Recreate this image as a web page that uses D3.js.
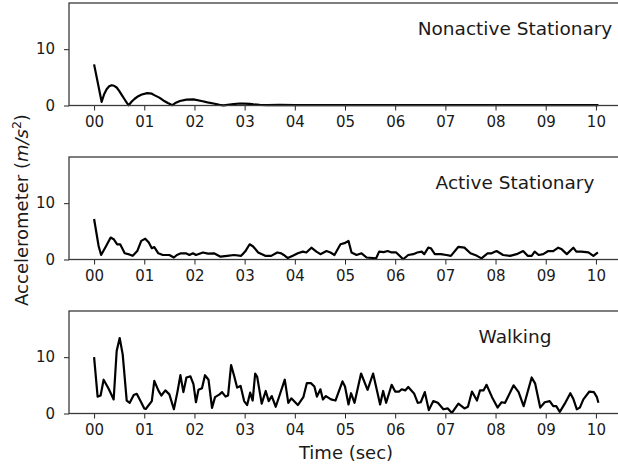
<!DOCTYPE html>
<html>
<head>
<meta charset="utf-8">
<script src="https://cdn.jsdelivr.net/npm/d3@7"></script>
<style>
  body { margin: 0; background: #fff; }
  svg text { font-family: "DejaVu Sans", sans-serif; fill: #1a1a1a; }
</style>
</head>
<body>
<div id="chart"></div>
<script>
// accelerometer magnitude (t in sec, value in m/s^2)
var nonactiveT = [0, 0.15, 0.2, 0.25, 0.3, 0.35, 0.4, 0.45, 0.5, 0.55, 0.6, 0.65, 0.69, 0.75, 0.81, 0.88, 0.95, 1.06, 1.15, 1.21, 1.3, 1.38, 1.47, 1.56, 1.63, 1.71, 1.84, 1.98, 2.14, 2.26, 2.38, 2.5, 2.58, 2.7, 2.78, 2.9, 2.98, 3.1, 3.18, 3.3, 3.45, 3.7, 4.0, 4.5, 5.0, 5.5, 6.0, 6.5, 7.0, 7.5, 8.0, 8.5, 9.0, 9.5, 10.05];
var nonactiveV = [7.3, 0.65, 2.0, 2.9, 3.4, 3.6, 3.5, 3.2, 2.6, 1.9, 1.2, 0.5, 0.05, 0.7, 1.2, 1.65, 1.95, 2.2, 2.1, 1.8, 1.4, 0.9, 0.45, 0.05, 0.5, 0.8, 1.05, 1.1, 0.8, 0.55, 0.35, 0.1, 0.02, 0.15, 0.25, 0.35, 0.35, 0.3, 0.2, 0.12, 0.08, 0.1, 0.06, 0.08, 0.05, 0.07, 0.05, 0.06, 0.05, 0.07, 0.05, 0.06, 0.05, 0.06, 0.05];

var activeT = [0, 0.09, 0.14, 0.24, 0.33, 0.39, 0.46, 0.52, 0.61, 0.7, 0.77, 0.86, 0.94, 1.02, 1.09, 1.15, 1.2, 1.28, 1.37, 1.5, 1.59, 1.65, 1.73, 1.83, 1.9, 1.97, 2.03, 2.17, 2.27, 2.39, 2.52, 2.65, 2.79, 2.93, 3.01, 3.1, 3.17, 3.27, 3.41, 3.53, 3.65, 3.73, 3.78, 3.86, 3.96, 4.06, 4.16, 4.23, 4.33, 4.43, 4.51, 4.63, 4.71, 4.79, 4.91, 4.99, 5.07, 5.13, 5.23, 5.33, 5.43, 5.62, 5.68, 5.77, 5.85, 5.93, 6.02, 6.16, 6.26, 6.36, 6.44, 6.53, 6.58, 6.66, 6.71, 6.79, 6.91, 7.02, 7.11, 7.26, 7.38, 7.5, 7.63, 7.72, 7.84, 7.92, 8.02, 8.15, 8.29, 8.42, 8.55, 8.64, 8.72, 8.78, 8.86, 8.95, 9.05, 9.15, 9.25, 9.32, 9.42, 9.55, 9.61, 9.71, 9.85, 9.95, 10.04];
var activeV = [7.2, 2.4, 0.8, 2.4, 3.9, 3.6, 2.7, 2.7, 1.1, 0.9, 0.65, 1.5, 3.3, 3.7, 3.0, 2.0, 2.2, 1.1, 0.8, 0.8, 0.35, 0.8, 1.1, 1.1, 0.8, 1.1, 0.8, 1.25, 1.05, 1.1, 0.5, 0.65, 0.8, 0.65, 1.4, 2.7, 2.3, 1.25, 0.65, 0.65, 1.25, 1.1, 0.8, 0.25, 0.65, 1.1, 1.4, 1.25, 2.1, 1.4, 0.95, 1.5, 1.25, 0.8, 2.7, 2.9, 3.3, 1.25, 0.8, 1.1, 0.35, 0.2, 1.4, 1.3, 1.5, 1.25, 1.25, 0.05, 0.8, 0.95, 1.25, 1.4, 0.95, 2.1, 2.0, 0.95, 0.95, 0.8, 0.65, 2.25, 2.1, 1.1, 0.65, 0.2, 1.1, 1.1, 1.5, 0.8, 0.65, 0.95, 1.5, 0.65, 0.65, 1.4, 0.8, 0.95, 1.5, 1.5, 2.1, 1.8, 0.95, 2.1, 1.4, 1.4, 1.25, 0.65, 1.25];

var walkingT = [0, 0.07, 0.13, 0.19, 0.29, 0.39, 0.45, 0.51, 0.57, 0.65, 0.71, 0.79, 0.85, 0.92, 1.0, 1.03, 1.15, 1.2, 1.28, 1.34, 1.42, 1.5, 1.59, 1.66, 1.72, 1.78, 1.84, 1.92, 1.98, 2.03, 2.08, 2.15, 2.21, 2.28, 2.35, 2.41, 2.5, 2.55, 2.62, 2.67, 2.73, 2.79, 2.85, 2.92, 2.99, 3.05, 3.11, 3.16, 3.21, 3.25, 3.34, 3.42, 3.48, 3.54, 3.62, 3.71, 3.8, 3.87, 3.93, 4.06, 4.17, 4.24, 4.32, 4.39, 4.44, 4.51, 4.56, 4.62, 4.72, 4.81, 4.95, 5.0, 5.07, 5.12, 5.19, 5.32, 5.45, 5.56, 5.7, 5.76, 5.82, 5.93, 6.0, 6.08, 6.13, 6.2, 6.26, 6.38, 6.45, 6.51, 6.59, 6.67, 6.76, 6.85, 6.96, 7.05, 7.13, 7.26, 7.38, 7.45, 7.53, 7.63, 7.69, 7.76, 7.82, 7.93, 8.04, 8.12, 8.19, 8.36, 8.46, 8.56, 8.72, 8.79, 8.89, 8.98, 9.08, 9.15, 9.21, 9.28, 9.38, 9.49, 9.55, 9.62, 9.68, 9.75, 9.87, 9.96, 10.02, 10.05];
var walkingV = [10.0, 3.0, 3.2, 6.0, 4.4, 2.5, 11.1, 13.4, 10.5, 2.3, 1.9, 3.3, 3.5, 2.3, 0.9, 0.8, 2.2, 5.8, 4.1, 3.2, 4.1, 3.4, 0.75, 3.8, 6.8, 3.8, 6.4, 6.6, 5.2, 2.0, 4.2, 4.5, 6.8, 6.0, 1.0, 2.9, 3.4, 3.8, 3.0, 3.2, 8.6, 6.7, 4.6, 4.9, 2.2, 1.5, 3.7, 2.3, 7.1, 6.5, 1.75, 4.0, 2.2, 3.1, 1.2, 3.6, 6.0, 1.9, 2.7, 1.5, 2.9, 5.4, 5.4, 4.8, 3.0, 4.3, 2.5, 3.1, 2.5, 2.3, 5.7, 4.8, 1.6, 3.6, 1.9, 7.1, 4.2, 7.1, 1.6, 4.0, 1.9, 5.1, 3.9, 3.9, 4.3, 4.1, 4.7, 3.5, 1.9, 2.0, 3.8, 0.6, 2.2, 1.9, 0.75, 0.9, 0.1, 1.75, 0.9, 1.2, 3.9, 2.3, 4.1, 4.1, 5.1, 2.9, 1.05, 2.0, 1.9, 5.0, 3.8, 1.3, 6.4, 5.3, 1.05, 2.0, 2.2, 1.3, 1.3, 0.3, 1.75, 3.6, 2.6, 0.75, 1.05, 2.5, 3.9, 3.8, 2.9, 1.9];

var titles = ["Nonactive Stationary", "Active Stationary", "Walking"];
var xTicks = [0, 1, 2, 3, 4, 5, 6, 7, 8, 9, 10];
var yTicks = [0, 10];

var width = 618, height = 467;
var left = 69, right = 621;
var panelTops = [3, 157, 311];
var panelH = 102.5;

var series = [
  d3.zip(nonactiveT, nonactiveV),
  d3.zip(activeT, activeV),
  d3.zip(walkingT, walkingV)
];

var svg = d3.select('#chart').append('svg')
  .attr('width', width)
  .attr('height', height);

var x = d3.scaleLinear().domain([-0.5, 10.5]).range([left, right]);

series.forEach(function(data, i) {
  var top = panelTops[i], bottom = top + panelH;
  var y = d3.scaleLinear().domain([0, 18.2]).range([bottom, top]);
  var g = svg.append('g');

  var xAxis = g.append('g')
    .attr('transform', 'translate(0,' + bottom + ')')
    .call(d3.axisBottom(x).tickValues(xTicks).tickFormat(d3.format('02d')).tickSizeOuter(0).tickSize(5).tickPadding(6));
  xAxis.select('.domain').remove();
  xAxis.selectAll('line').attr('stroke', '#222');
  xAxis.selectAll('text').attr('font-size', 15).attr('fill', '#1a1a1a');

  var yAxis = g.append('g')
    .attr('transform', 'translate(' + left + ',0)')
    .call(d3.axisLeft(y).tickValues(yTicks).tickSizeOuter(0).tickSize(5).tickPadding(9));
  yAxis.select('.domain').remove();
  yAxis.selectAll('line').attr('stroke', '#222');
  yAxis.selectAll('text').attr('font-size', 15).attr('fill', '#1a1a1a');

  var line = d3.line()
    .x(function(d) { return x(d[0]); })
    .y(function(d) { return y(d[1]); });

  g.append('path')
    .datum(data)
    .attr('d', line)
    .attr('fill', 'none')
    .attr('stroke', '#000')
    .attr('stroke-width', 2.2)
    .attr('stroke-linejoin', 'round');

  // spines
  g.append('rect')
    .attr('x', left).attr('y', top)
    .attr('width', right - left).attr('height', panelH)
    .attr('fill', 'none')
    .attr('stroke', '#3a3a3a')
    .attr('stroke-width', 1.3);

  g.append('text')
    .attr('x', 515)
    .attr('y', top + 31.5)
    .attr('text-anchor', 'middle')
    .attr('font-size', 18.5)
    .text(titles[i]);
});

svg.append('text')
  .attr('x', 346)
  .attr('y', 459)
  .attr('text-anchor', 'middle')
  .attr('font-size', 18)
  .text('Time (sec)');

var ylab = svg.append('text')
  .attr('transform', 'translate(28,210) rotate(-90)')
  .attr('text-anchor', 'middle')
  .attr('font-size', 18);
ylab.append('tspan').text('Accelerometer (');
ylab.append('tspan').attr('font-style', 'italic').text('m/s');
ylab.append('tspan').attr('font-size', 12.5).attr('dy', -7).text('2');
ylab.append('tspan').attr('dy', 7).text(')');
</script>
</body>
</html>
